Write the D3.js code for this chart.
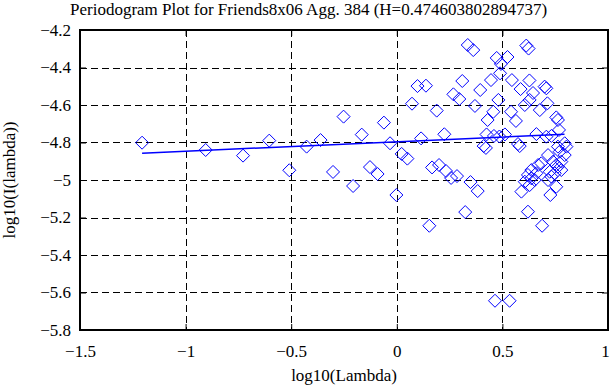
<!DOCTYPE html>
<html>
<head>
<meta charset="utf-8">
<script src="https://cdn.jsdelivr.net/npm/d3@7"></script>
<style>
  body { margin: 0; background: #fff; }
  svg { display: block; }
  text { font-family: "Liberation Serif", "Times New Roman", serif; }
</style>
</head>
<body>
<div id="chart"></div>
<script>
var title = 'Periodogram Plot for Friends8x06 Agg. 384 (H=0.474603802894737)';
var xLabel = 'log10(Lambda)';
var yLabel = 'log10(I(lambda))';

var xTicks = [-1.5, -1, -0.5, 0, 0.5, 1];
var xTickLabels = ['\u22121.5', '\u22121', '\u22120.5', '0', '0.5', '1'];
var yTicks = [-4.2, -4.4, -4.6, -4.8, -5, -5.2, -5.4, -5.6, -5.8];
var yTickLabels = ['\u22124.2', '\u22124.4', '\u22124.6', '\u22124.8', '\u22125', '\u22125.2', '\u22125.4', '\u22125.6', '\u22125.8'];

// [log10(lambda), log10(I(lambda))]
var periodogram = [
  [-1.206, -4.801], [-0.905, -4.840], [-0.728, -4.870], [-0.604, -4.790], [-0.509, -4.948],
  [-0.427, -4.822], [-0.361, -4.787], [-0.302, -4.957], [-0.252, -4.662], [-0.207, -5.032],
  [-0.166, -4.758], [-0.127, -4.931], [-0.091, -4.968], [-0.061, -4.694], [-0.032, -4.804],
  [-0.002, -5.080], [0.023, -4.861], [0.050, -4.886], [0.072, -4.593], [0.098, -4.499],
  [0.115, -4.778], [0.138, -4.497], [0.154, -5.244], [0.167, -4.933], [0.189, -4.630],
  [0.200, -4.920], [0.225, -4.756], [0.233, -4.952], [0.257, -4.989], [0.268, -4.543],
  [0.285, -4.979], [0.296, -4.568], [0.310, -4.472], [0.324, -5.171], [0.336, -4.280],
  [0.349, -5.011], [0.362, -4.307], [0.370, -4.605], [0.383, -5.059], [0.395, -4.520],
  [0.411, -4.819], [0.422, -4.829], [0.430, -4.680], [0.425, -4.757], [0.446, -4.467],
  [0.457, -4.636], [0.460, -4.765], [0.465, -5.644], [0.473, -4.349], [0.481, -4.573],
  [0.486, -4.768], [0.489, -4.431], [0.493, -4.381], [0.512, -4.757], [0.524, -4.344],
  [0.534, -5.644], [0.545, -4.467], [0.541, -4.636], [0.564, -4.685], [0.574, -4.808],
  [0.582, -4.819], [0.586, -4.515], [0.606, -4.600], [0.613, -4.283], [0.624, -4.299],
  [0.628, -4.469], [0.629, -4.573], [0.645, -4.536], [0.621, -5.169], [0.590, -5.062],
  [0.606, -5.009], [0.629, -5.027], [0.653, -5.000], [0.621, -4.973], [0.637, -4.991],
  [0.637, -4.947], [0.661, -4.964], [0.661, -4.755], [0.669, -4.920], [0.684, -4.911],
  [0.677, -4.627], [0.688, -5.244], [0.700, -4.502], [0.708, -4.511], [0.713, -4.591],
  [0.708, -4.769], [0.732, -4.765], [0.716, -4.867], [0.740, -4.902], [0.724, -4.956],
  [0.748, -4.964], [0.716, -5.000], [0.732, -4.982], [0.727, -5.080], [0.755, -5.036],
  [0.755, -4.666], [0.763, -4.680], [0.768, -4.733], [0.763, -4.822], [0.771, -4.849],
  [0.795, -4.804], [0.803, -4.822], [0.795, -4.867], [0.763, -4.929], [0.779, -4.902],
  [0.779, -4.947], [0.755, -4.920]
];

// least squares fit line ends
var fitX = [-1.206, 0.794];
var fitY = [-4.857, -4.756];

var width = 611, height = 385;
var margin = { top: 30, right: 3, bottom: 55, left: 80 };
var plotW = width - margin.left - margin.right;
var plotH = height - margin.top - margin.bottom;
var blue = '#0000ff';

var svg = d3.select('#chart')
  .append('svg')
  .attr('width', width)
  .attr('height', height);

var x = d3.scaleLinear().domain([-1.5, 1]).range([0, plotW]);
var y = d3.scaleLinear().domain([-5.8, -4.2]).range([plotH, 0]);

var g = svg.append('g')
  .attr('transform', 'translate(' + margin.left + ',' + margin.top + ')');

// dashed grid
g.append('g')
  .selectAll('line')
  .data(xTicks.slice(1, -1))
  .enter()
  .append('line')
  .attr('x1', function(d) { return Math.round(x(d)) + 0.5; })
  .attr('x2', function(d) { return Math.round(x(d)) + 0.5; })
  .attr('y1', 0)
  .attr('y2', plotH)
  .attr('stroke', '#000')
  .attr('stroke-dasharray', '7,4');

g.append('g')
  .selectAll('line')
  .data(yTicks.slice(1, -1))
  .enter()
  .append('line')
  .attr('y1', function(d) { return Math.round(y(d)) + 0.5; })
  .attr('y2', function(d) { return Math.round(y(d)) + 0.5; })
  .attr('x1', 0)
  .attr('x2', plotW)
  .attr('stroke', '#000')
  .attr('stroke-dasharray', '7,4');

// inner tick marks on all four sides
var xAxisB = d3.axisBottom(x).tickValues(xTicks)
  .tickFormat(function(d, i) { return xTickLabels[i]; })
  .tickSizeInner(-6).tickSizeOuter(0).tickPadding(15);
var xAxisT = d3.axisTop(x).tickValues(xTicks).tickFormat('').tickSizeInner(-6).tickSizeOuter(0);
var yAxisL = d3.axisLeft(y).tickValues(yTicks)
  .tickFormat(function(d, i) { return yTickLabels[i]; })
  .tickSizeInner(-6).tickSizeOuter(0).tickPadding(9);
var yAxisR = d3.axisRight(y).tickValues(yTicks).tickFormat('').tickSizeInner(-6).tickSizeOuter(0);

function styleAxis(sel) {
  sel.select('.domain').remove();
  sel.selectAll('line').attr('stroke', '#000');
  sel.selectAll('text').attr('fill', '#000').style('font-size', '17px');
}

var xAxisG = g.append('g').attr('transform', 'translate(0,' + plotH + ')').call(xAxisB).call(styleAxis);
// keep the last label inside the window
xAxisG.selectAll('.tick text').filter(function(d) { return d === 1; }).attr('dx', -3);
g.append('g').call(xAxisT).call(styleAxis);
g.append('g').call(yAxisL).call(styleAxis);
g.append('g').attr('transform', 'translate(' + plotW + ',0)').call(yAxisR).call(styleAxis);

// frame
g.append('rect')
  .attr('x', 0)
  .attr('y', 0)
  .attr('width', plotW)
  .attr('height', plotH)
  .attr('fill', 'none')
  .attr('stroke', '#000')
  .attr('stroke-width', 2);

// diamonds
var r = 6.5;
g.append('g')
  .selectAll('path')
  .data(periodogram)
  .enter()
  .append('path')
  .attr('transform', function(d) { return 'translate(' + x(d[0]) + ',' + y(d[1]) + ')'; })
  .attr('d', 'M0,' + (-r) + 'L' + r + ',0L0,' + r + 'L' + (-r) + ',0Z')
  .attr('fill', 'none')
  .attr('stroke', blue)
  .attr('stroke-width', 1);

// fit line
var fitLine = d3.line()
  .x(function(d) { return x(d[0]); })
  .y(function(d) { return y(d[1]); });

g.append('path')
  .datum(d3.zip(fitX, fitY))
  .attr('d', fitLine)
  .attr('fill', 'none')
  .attr('stroke', blue)
  .attr('stroke-width', 1.5);

// labels
svg.append('text')
  .attr('x', 70)
  .attr('y', 15)
  .style('font-size', '17px')
  .text(title);

svg.append('text')
  .attr('x', margin.left + plotW / 2)
  .attr('y', 381)
  .attr('text-anchor', 'middle')
  .style('font-size', '17px')
  .text(xLabel);

svg.append('text')
  .attr('transform', 'translate(15,' + (margin.top + plotH / 2) + ') rotate(-90)')
  .attr('text-anchor', 'middle')
  .style('font-size', '17px')
  .text(yLabel);
</script>
</body>
</html>
